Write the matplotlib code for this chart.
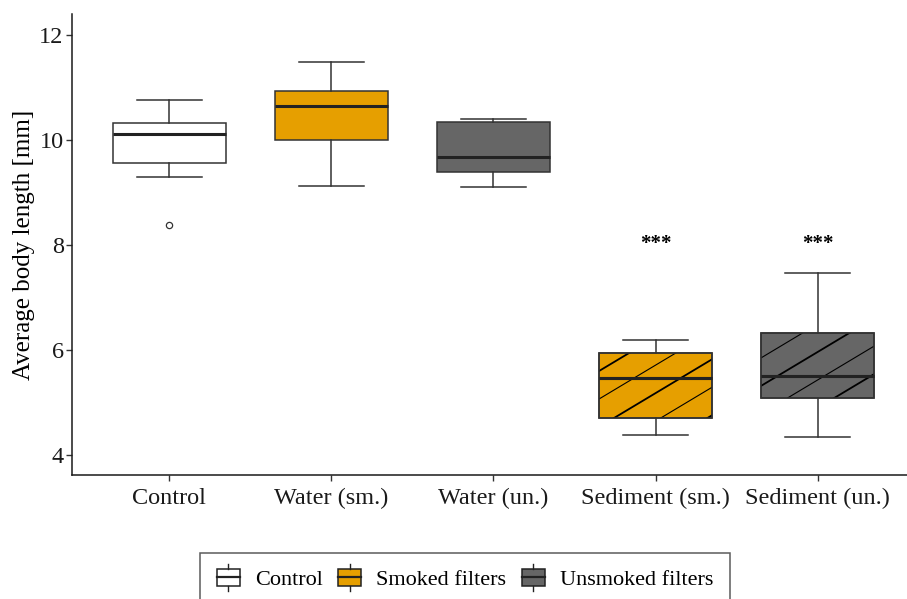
import numpy as np
import matplotlib
matplotlib.use('Agg')
from matplotlib import pyplot as plt
from matplotlib.patches import Rectangle
from matplotlib.lines import Line2D
from matplotlib.legend_handler import HandlerBase

plt.rcParams['font.family'] = ['Liberation Serif', 'DejaVu Serif']

# summary statistics per group (mm)
groups = ['Control', 'Water (sm.)', 'Water (un.)', 'Sediment (sm.)', 'Sediment (un.)']
whislo = [9.30, 9.13, 9.11, 4.38, 4.34]
q1 = [9.56, 10.00, 9.39, 4.71, 5.08]
med = [10.11, 10.65, 9.68, 5.47, 5.50]
q3 = [10.32, 10.94, 10.34, 5.95, 6.33]
whishi = [10.76, 11.48, 10.40, 6.19, 7.47]
fliers = [[8.38], [], [], [], []]
treatment = ['Control', 'Smoked filters', 'Unsmoked filters', 'Smoked filters', 'Unsmoked filters']
hatched = [False, False, False, True, True]
signif = ['', '', '', '***', '***']
signif_y = 8.02

colors = {'Control': '#FFFFFF', 'Smoked filters': '#E69F00', 'Unsmoked filters': '#666666'}
edge = '#333333'

fig = plt.figure(figsize=(9.07, 5.99), dpi=100)
ax = fig.add_axes([72 / 907, 124 / 599, 843 / 907, 461 / 599])

stats = []
for i, g in enumerate(groups):
    stats.append(dict(label=g, whislo=whislo[i], q1=q1[i], med=med[i],
                      q3=q3[i], whishi=whishi[i], fliers=fliers[i]))

pos = np.arange(1, len(groups) + 1)
bp = ax.bxp(stats, positions=pos, widths=0.7, capwidths=0.4, patch_artist=True,
            showfliers=True,
            boxprops=dict(edgecolor=edge, linewidth=1.1),
            medianprops=dict(color='#222222', linewidth=2.2, solid_capstyle='butt'),
            whiskerprops=dict(color=edge, linewidth=1.1),
            capprops=dict(color=edge, linewidth=1.1),
            flierprops=dict(marker='o', markersize=4.5, markerfacecolor='white',
                            markeredgecolor=edge, markeredgewidth=0.9))
for box, t in zip(bp['boxes'], treatment):
    box.set_facecolor(colors[t])

ax.set_xlim(0.4, 5.6)
ax.set_ylim(3.62, 12.40)

# diagonal stripe pattern on the sediment boxes (one global stripe grid)
slope = 1.85
spacing = 0.533
anchor_x, anchor_y = 3.84, 5.95
for i, box in enumerate(bp['boxes']):
    if not hatched[i]:
        continue
    x0, x1 = pos[i] - 0.4, pos[i] + 0.4
    for k in range(-20, 21):
        yk = anchor_y + k * spacing
        ln = Line2D([x0, x1], [yk + slope * (x0 - anchor_x), yk + slope * (x1 - anchor_x)],
                    color='black', linewidth=1.3 if k % 2 == 0 else 0.8,
                    zorder=box.get_zorder() + 0.1)
        ax.add_line(ln)
        ln.set_clip_path(box)
    ax.add_patch(Rectangle((pos[i] - 0.35, q1[i]), 0.7, q3[i] - q1[i], fill=False,
                           edgecolor=edge, linewidth=1.1, zorder=box.get_zorder() + 0.2))
    ax.plot([pos[i] - 0.35, pos[i] + 0.35], [med[i], med[i]], color='#222222',
            linewidth=2.2, solid_capstyle='butt', zorder=box.get_zorder() + 0.3)

for p, s in zip(pos, signif):
    if s:
        ax.text(p, signif_y, s, ha='center', va='center', fontsize=15, fontweight='bold')

ax.set_xticks(pos)
ax.set_xticklabels(groups)
ax.set_yticks([4, 6, 8, 10, 12])
ax.set_ylabel('Average body length [mm]', fontsize=18, labelpad=3)
ax.tick_params(axis='both', labelsize=17.5, length=4, width=1.0, color=edge, labelcolor='#1a1a1a')
ax.tick_params(axis='x', pad=5)
ax.tick_params(axis='y', pad=2)
for side in ['top', 'right']:
    ax.spines[side].set_visible(False)
for side in ['left', 'bottom']:
    ax.spines[side].set_color('#1a1a1a')
    ax.spines[side].set_linewidth(1.1)


class BoxKey(HandlerBase):
    def create_artists(self, legend, orig_handle, xdescent, ydescent, width, height,
                       fontsize, trans):
        bx = -xdescent
        w = width
        cx = bx + w / 2
        bh = height * 1.15
        by = -ydescent + (height - bh) / 2
        fc = orig_handle.get_facecolor()
        rect = Rectangle((bx, by), w, bh, facecolor=fc, edgecolor='#222222',
                         linewidth=1.1, transform=trans)
        mid = Line2D([bx, bx + w], [by + bh / 2] * 2, color='#222222', linewidth=1.6,
                     transform=trans)
        top = Line2D([cx, cx], [by + bh, by + bh + height * 0.3], color='#222222',
                     linewidth=1.0, transform=trans)
        bot = Line2D([cx, cx], [by, by - height * 0.3], color='#222222',
                     linewidth=1.0, transform=trans)
        return [rect, mid, top, bot]


handles = [Rectangle((0, 0), 1, 1, facecolor=colors[k]) for k in colors]
leg = fig.legend(handles, list(colors.keys()), handler_map={Rectangle: BoxKey()},
                 loc='upper center', bbox_to_anchor=(465 / 907, 46 / 599), ncol=3,
                 fontsize=16, frameon=True, fancybox=False, edgecolor='#333333',
                 handlelength=1.05, handleheight=0.7, handletextpad=0.68,
                 columnspacing=0.68, borderpad=0.75, borderaxespad=0)
leg.get_frame().set_linewidth(1.1)

fig.savefig('out.png', dpi=100)
